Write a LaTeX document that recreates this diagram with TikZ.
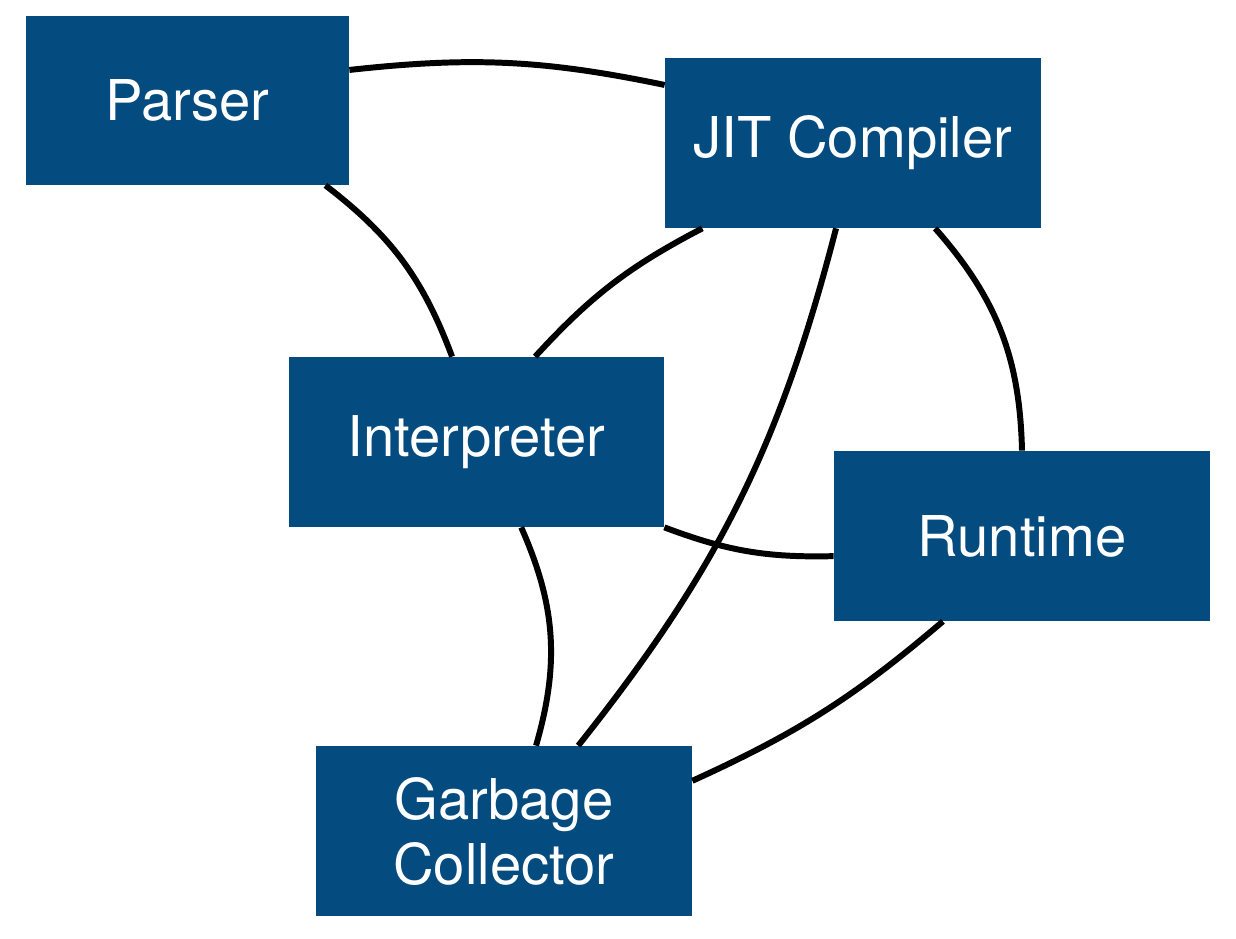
\documentclass[tikz,border=0pt]{standalone}
\usepackage{fontspec}
\setmainfont{TeX Gyre Heros}
\usetikzlibrary{calc}
\definecolor{boxblue}{RGB}{4,76,127}
\begin{document}
\begin{tikzpicture}[x=0.02cm,y=0.02cm,
  box/.style={fill=boxblue,draw=none,text=white,align=center,inner sep=0pt,
    font=\fontsize{32}{37}\selectfont},
  link/.style={line width=3.4pt,black}]
\useasboundingbox (0,0) rectangle (1236,938);
% y' = 938 - y
\node[box,minimum width=323*0.02cm,minimum height=169*0.02cm] (parser) at (187.5,837.5) {Parser};
\node[box,minimum width=376*0.02cm,minimum height=170*0.02cm] (jit) at (853,795) {JIT Compiler};
\node[box,minimum width=375*0.02cm,minimum height=170*0.02cm] (interp) at (476.5,496) {Interpreter};
\node[box,minimum width=376*0.02cm,minimum height=170*0.02cm] (runtime) at (1022,402) {Runtime};
\node[box,minimum width=376*0.02cm,minimum height=170*0.02cm] (gc) at (504,107) {Garbage\\Collector};
% connectors
\draw[link] ($(parser.north east)!0.32!(parser.south east)$) to[bend left=9] ($(jit.north west)!0.16!(jit.south west)$);
\draw[link] ($(parser.south west)!0.926!(parser.south east)$) to[bend left=16] ($(interp.north west)!0.435!(interp.north east)$);
\draw[link] ($(jit.south west)!0.10!(jit.south east)$) to[bend right=10] ($(interp.north west)!0.656!(interp.north east)$);
\draw[link] ($(jit.south west)!0.455!(jit.south east)$) to[bend left=12] ($(gc.north west)!0.697!(gc.north east)$);
\draw[link] ($(jit.south west)!0.718!(jit.south east)$) to[bend left=20] (runtime.north);
\draw[link] (interp.south east) to[bend right=11] ($(runtime.north west)!0.618!(runtime.south west)$);
\draw[link] ($(interp.south west)!0.619!(interp.south east)$) to[bend left=20] ($(gc.north west)!0.585!(gc.north east)$);
\draw[link] ($(runtime.south west)!0.29!(runtime.south east)$) to[bend left=8] ($(gc.north east)!0.206!(gc.south east)$);
\end{tikzpicture}
\end{document}
